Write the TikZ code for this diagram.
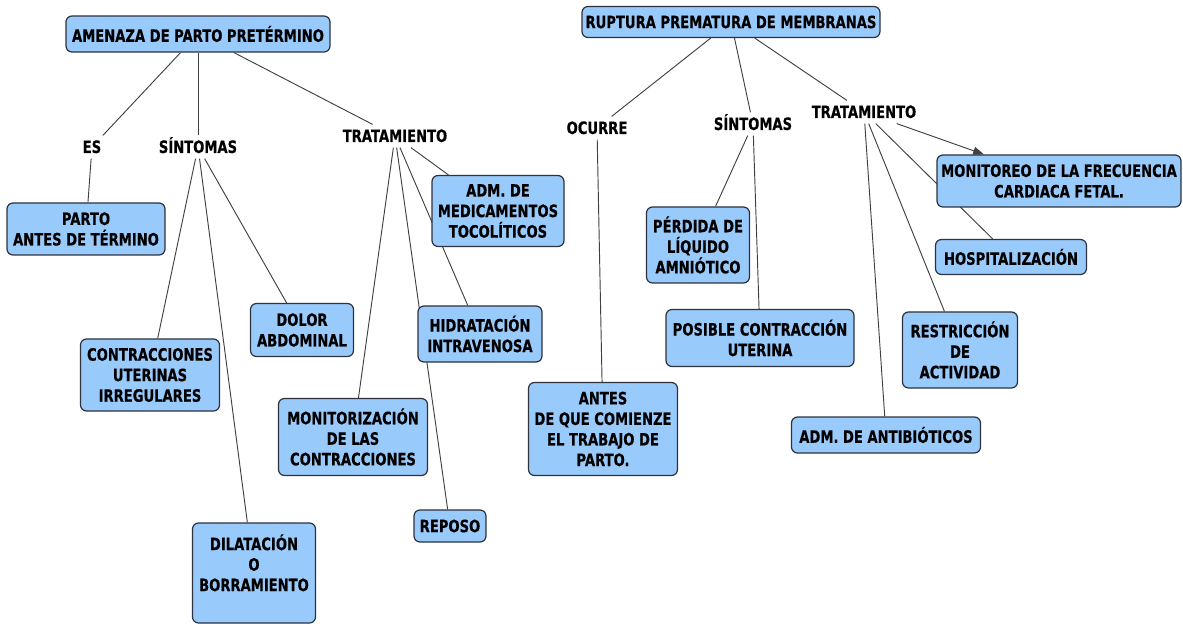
\documentclass[tikz,border=0pt]{standalone}
\usepackage{fontspec}
\setmainfont{DejaVu Sans}[FakeStretch=0.77, BoldFeatures={FakeBold=0.4}]
\usetikzlibrary{arrows.meta}
\pgfdeclarelayer{bg}
\pgfsetlayers{bg,main}
\definecolor{boxblue}{RGB}{153,202,252}
\definecolor{edgegray}{RGB}{45,50,60}
\begin{document}
\begin{tikzpicture}[x=0.75pt,y=-0.75pt,
  sz/.style 2 args={minimum width=#1*0.75pt, minimum height=#2*0.75pt},
  box/.style={draw=edgegray, line width=0.9pt, fill=boxblue, rounded corners=4.5pt,
    align=center, inner sep=0pt, font=\fontsize{12.8}{15.4}\selectfont\bfseries},
  lab/.style={font=\fontsize{12.8}{15.4}\selectfont\bfseries, inner xsep=2pt, inner ysep=4pt,
    text height=9pt, text depth=0pt},
  conn/.style={draw=black!75, line width=0.7pt}]
\useasboundingbox (0,0) rectangle (1183,624);
% boxes
\node[box, sz={264}{36}] (amen) at (198,34) {AMENAZA DE PARTO PRETÉRMINO};
\node[box, sz={298}{31}] (rupt) at (731,22) {RUPTURA PREMATURA DE MEMBRANAS};
\node[box, sz={158}{52}] (parto) at (86,229) {PARTO\\ANTES DE TÉRMINO};
\node[box, sz={139}{72}] (contr) at (150,375) {CONTRACCIONES\\UTERINAS\\IRREGULARES};
\node[box, sz={103}{53}] (dolor) at (302,330) {DOLOR\\ABDOMINAL};
\node[box, sz={123}{100}] (dilat) at (254,573) {DILATACIÓN\\O\\BORRAMIENTO\\~};
\node[box, sz={132}{71}] (admmed) at (498,211) {ADM. DE\\MEDICAMENTOS\\TOCOLÍTICOS};
\node[box, sz={124}{56}] (hidra) at (480,334) {HIDRATACIÓN\\INTRAVENOSA};
\node[box, sz={149}{77}] (monit) at (353,437) {MONITORIZACIÓN\\DE LAS\\CONTRACCIONES};
\node[box, sz={72}{32}] (reposo) at (450,526) {REPOSO};
\node[box, sz={103}{76}] (perd) at (698,245) {PÉRDIDA DE\\LÍQUIDO\\AMNIÓTICO};
\node[box, sz={188}{57}] (posib) at (760,338) {POSIBLE CONTRACCIÓN\\UTERINA};
\node[box, sz={149}{93}] (antes) at (603,429) {ANTES\\DE QUE COMIENZE\\EL TRABAJO DE\\PARTO.};
\node[box, sz={244}{52}] (monfc) at (1059,181) {MONITOREO DE LA FRECUENCIA\\CARDIACA FETAL.};
\node[box, sz={151}{35}] (hosp) at (1011,257) {HOSPITALIZACIÓN};
\node[box, sz={115}{76}] (restr) at (960,350) {RESTRICCIÓN\\DE\\ACTIVIDAD};
\node[box, sz={189}{36}] (antib) at (886,435) {ADM. DE ANTIBIÓTICOS};
% labels
\node[lab] (es) at (92,147) {ES};
\node[lab] (sint1) at (198,147) {SÍNTOMAS};
\node[lab] (trat1) at (395,136) {TRATAMIENTO};
\node[lab] (ocurre) at (597,128) {OCURRE};
\node[lab] (sint2) at (753,124) {SÍNTOMAS};
\node[lab] (trat2) at (864,112) {TRATAMIENTO};
% connectors
\begin{pgfonlayer}{bg}
\draw[conn] (amen) -- (es);
\draw[conn] (amen) -- (sint1);
\draw[conn] (amen) -- (trat1);
\draw[conn] (es) -- (parto);
\draw[conn] (sint1) -- (contr);
\draw[conn] (sint1) -- (dilat);
\draw[conn] (sint1) -- (dolor);
\draw[conn] (trat1) -- (admmed);
\draw[conn] (trat1) -- (hidra);
\draw[conn] (trat1) -- (reposo);
\draw[conn] (trat1) -- (monit);
\draw[conn] (rupt) -- (ocurre);
\draw[conn] (rupt) -- (sint2);
\draw[conn] (rupt) -- (trat2);
\draw[conn] (ocurre) -- (antes);
\draw[conn] (sint2) -- (perd);
\draw[conn] (sint2) -- (posib);
\draw[conn] (trat2) -- (hosp);
\draw[conn] (trat2) -- (restr);
\draw[conn] (trat2) -- (antib);
\end{pgfonlayer}
\draw[conn, -{Triangle[length=8pt,width=6pt]}] (trat2) -- (monfc);
\end{tikzpicture}
\end{document}
